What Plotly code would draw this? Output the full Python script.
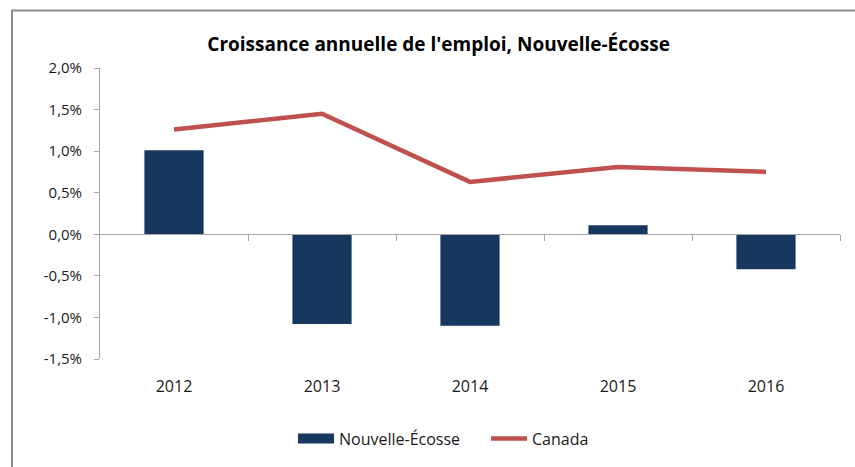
import plotly.graph_objects as go

years = ["2012", "2013", "2014", "2015", "2016"]
nouvelle_ecosse = [1.01, -1.08, -1.10, 0.11, -0.42]
canada = [1.26, 1.45, 0.63, 0.81, 0.75]
y_ticks = [-1.5, -1.0, -0.5, 0.0, 0.5, 1.0, 1.5, 2.0]
y_tick_labels = ["-1,5%", "-1,0%", "-0,5%", "0,0%", "0,5%", "1,0%", "1,5%", "2,0%"]

FONT = "Open Sans, sans-serif"
AXIS_GRAY = "#A6A6A6"
NAVY = "#17375E"
RED = "#C0504D"

fig = go.Figure()
fig.add_trace(go.Bar(
    x=years, y=nouvelle_ecosse, name="Nouvelle-Écosse",
    marker=dict(color=NAVY, line=dict(width=0)), showlegend=False,
))
# legend proxy with a wide swatch like the original
fig.add_trace(go.Scatter(
    x=[None], y=[None], name="Nouvelle-Écosse", mode="lines",
    line=dict(color=NAVY, width=10),
))
fig.add_trace(go.Scatter(
    x=years, y=canada, name="Canada", mode="lines",
    line=dict(color=RED, width=4.5),
))
# category axis crossing at zero (ticks between categories)
fig.add_trace(go.Scatter(
    x=[-0.5, 4.5], y=[0, 0], xaxis="x2", mode="lines",
    line=dict(width=0), showlegend=False, hoverinfo="skip",
))

fig.update_layout(
    width=855, height=467,
    margin=dict(l=100, r=15, t=68, b=105),
    paper_bgcolor="white", plot_bgcolor="white",
    font=dict(family=FONT, size=16, color="#1a1a1a"),
    title=dict(
        text="<b>Croissance annuelle de l'emploi, Nouvelle-Écosse</b>",
        x=0.513, xanchor="center", y=0.905, yanchor="middle",
        font=dict(family=FONT, size=19, color="#000000"),
    ),
    bargap=0.6,
    showlegend=True,
    legend=dict(
        orientation="h", x=(293 - 100) / 740, xanchor="left",
        y=-0.215, yanchor="top",
        font=dict(family=FONT, size=16), itemwidth=36,
        entrywidth=142, entrywidthmode="pixels",
        traceorder="normal",
    ),
    xaxis=dict(
        type="category", showline=False, showgrid=False, zeroline=False,
        ticks="", tickfont=dict(size=16), ticklabelstandoff=16,
    ),
    xaxis2=dict(
        overlaying="x", anchor="free", position=1.5 / 3.5,
        range=[-0.5, 4.5], showline=True, linecolor=AXIS_GRAY, linewidth=1,
        ticks="outside", ticklen=6, tickcolor=AXIS_GRAY,
        tickvals=[0.5, 1.5, 2.5, 3.5, 4.5], showticklabels=False,
        showgrid=False, zeroline=False, side="bottom",
    ),
    yaxis=dict(
        range=[-1.5, 2.0], tickvals=y_ticks, ticktext=y_tick_labels,
        showline=True, linecolor=AXIS_GRAY, linewidth=1,
        ticks="outside", ticklen=5, tickcolor=AXIS_GRAY,
        showgrid=False, zeroline=False, tickfont=dict(size=15),
        ticklabelstandoff=9,
    ),
    shapes=[dict(
        type="rect", xref="paper", yref="paper",
        x0=(12 - 100) / 740, x1=(870 - 100) / 740,
        y0=(362 - 480) / 294, y1=(362 - 10) / 294,
        line=dict(color="#8C8C8C", width=2), fillcolor="rgba(0,0,0,0)",
        layer="below",
    )],
)

fig.write_html(
    "out.html",
    config={"displayModeBar": False},
    post_script="document.body.style.margin='0px';document.body.style.overflow='hidden';",
)
